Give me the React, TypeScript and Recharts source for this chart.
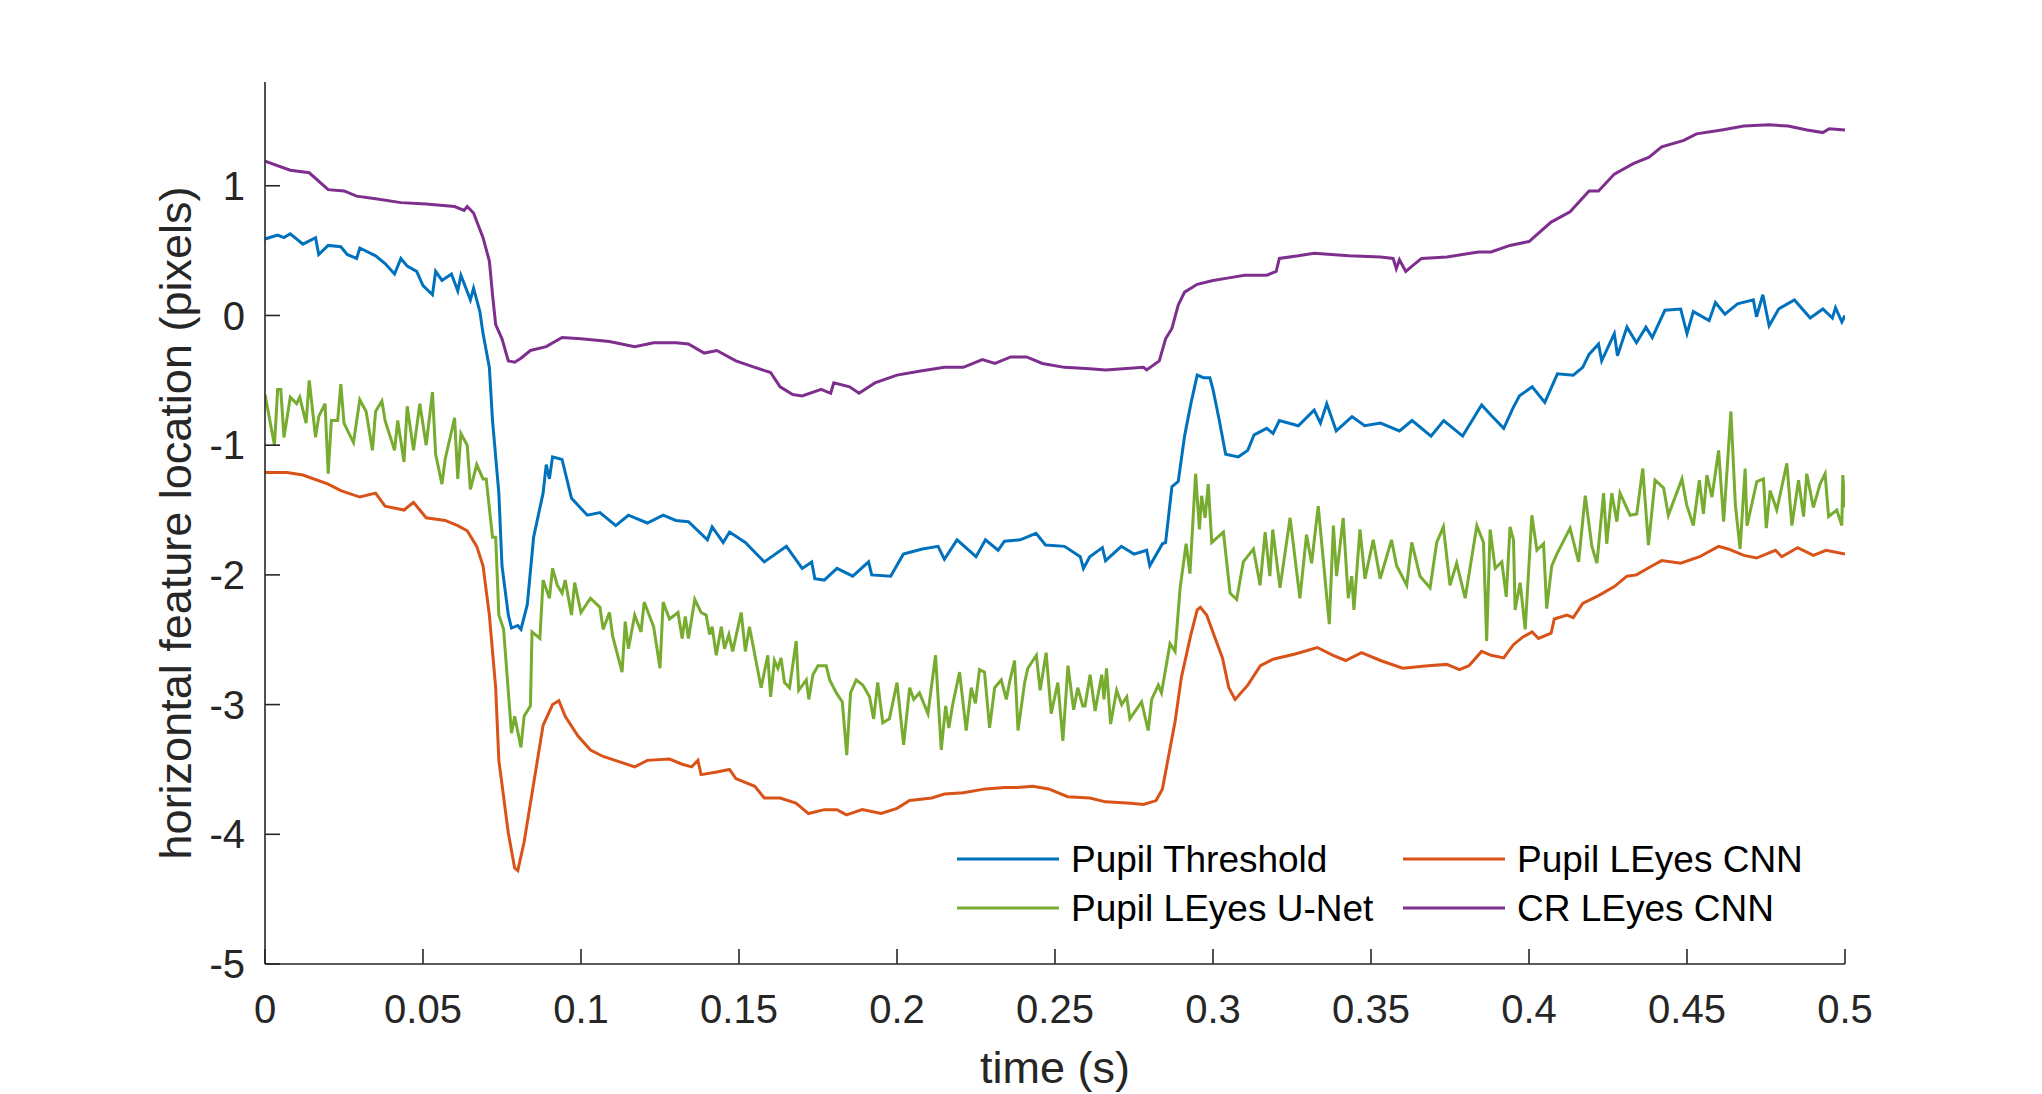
import { LineChart, Line, XAxis, YAxis, Legend, Label } from 'recharts'

// time (s) and horizontal position (pixels), per signal
const thresholdT = [
  0, 0.004, 0.006, 0.008, 0.012, 0.016, 0.017, 0.02, 0.024, 0.026, 0.029, 0.03, 0.035, 0.038, 0.041, 0.043,
  0.045, 0.048, 0.05, 0.053, 0.054, 0.056, 0.059, 0.061, 0.062, 0.065, 0.066, 0.068, 0.069, 0.071, 0.072,
  0.074, 0.075, 0.077, 0.078, 0.08, 0.081, 0.083, 0.085, 0.088, 0.089, 0.09, 0.091, 0.094, 0.097, 0.102,
  0.106, 0.111, 0.115, 0.121, 0.126, 0.13, 0.134, 0.14, 0.1415, 0.145, 0.147, 0.152, 0.158, 0.165, 0.17,
  0.173, 0.174, 0.177, 0.181, 0.186, 0.191, 0.192, 0.198, 0.202, 0.208, 0.213, 0.215, 0.219, 0.225, 0.228,
  0.232, 0.234, 0.239, 0.244, 0.247, 0.253, 0.258, 0.259, 0.261, 0.265, 0.266, 0.271, 0.275, 0.279, 0.28,
  0.284, 0.285, 0.287, 0.289, 0.291, 0.293, 0.295, 0.297, 0.299, 0.3, 0.302, 0.304, 0.308, 0.311, 0.313,
  0.317, 0.319, 0.321, 0.327, 0.332, 0.334, 0.336, 0.339, 0.344, 0.348, 0.353, 0.359, 0.363, 0.369, 0.373,
  0.379, 0.382, 0.385, 0.388, 0.392, 0.395, 0.397, 0.401, 0.405, 0.409, 0.414, 0.417, 0.419, 0.422, 0.423,
  0.427, 0.428, 0.431, 0.434, 0.437, 0.439, 0.443, 0.448, 0.45, 0.452, 0.457, 0.459, 0.462, 0.466, 0.471,
  0.472, 0.474, 0.476, 0.479, 0.484, 0.489, 0.493, 0.496, 0.497, 0.499, 0.5,
]
const thresholdV = [
  0.59, 0.62, 0.6, 0.63, 0.55, 0.6, 0.47, 0.54, 0.53, 0.47, 0.44, 0.52, 0.46, 0.4, 0.32, 0.44,
  0.38, 0.34, 0.23, 0.16, 0.34, 0.27, 0.32, 0.19, 0.31, 0.12, 0.21, 0.03, -0.14, -0.4, -0.81,
  -1.37, -1.93, -2.31, -2.41, -2.39, -2.42, -2.23, -1.71, -1.37, -1.15, -1.26, -1.09, -1.11, -1.41, -1.54,
  -1.52, -1.62, -1.54, -1.6, -1.54, -1.58, -1.59, -1.73, -1.63, -1.75, -1.67, -1.75, -1.9, -1.78, -1.95,
  -1.9, -2.03, -2.04, -1.95, -2.01, -1.9, -2.0, -2.01, -1.84, -1.8, -1.78, -1.88, -1.73, -1.86, -1.73,
  -1.81, -1.74, -1.73, -1.68, -1.77, -1.78, -1.86, -1.95, -1.86, -1.79, -1.89, -1.78, -1.84, -1.81, -1.93,
  -1.76, -1.75, -1.32, -1.28, -0.93, -0.68, -0.46, -0.48, -0.48, -0.57, -0.81, -1.07, -1.09, -1.04, -0.92,
  -0.87, -0.91, -0.81, -0.85, -0.73, -0.83, -0.68, -0.89, -0.78, -0.85, -0.83, -0.89, -0.81, -0.93, -0.81,
  -0.93, -0.81, -0.69, -0.77, -0.87, -0.71, -0.62, -0.55, -0.67, -0.45, -0.46, -0.4, -0.3, -0.22, -0.35,
  -0.14, -0.31, -0.09, -0.21, -0.09, -0.17, 0.04, 0.05, -0.14, 0.03, -0.04, 0.1, 0.01, 0.09, 0.12,
  -0.01, 0.16, -0.08, 0.05, 0.12, -0.02, 0.05, -0.02, 0.06, -0.05, 0.0,
]

const cnnT = [
  0, 0.007, 0.012, 0.02, 0.024, 0.03, 0.035, 0.038, 0.044, 0.047, 0.051, 0.057, 0.061, 0.064, 0.067, 0.069,
  0.071, 0.073, 0.074, 0.077, 0.079, 0.08, 0.082, 0.085, 0.088, 0.091, 0.093, 0.095, 0.099, 0.103, 0.107,
  0.112, 0.117, 0.121, 0.128, 0.132, 0.135, 0.137, 0.138, 0.143, 0.147, 0.149, 0.155, 0.158, 0.163, 0.168,
  0.172, 0.177, 0.181, 0.184, 0.189, 0.195, 0.2, 0.204, 0.211, 0.215, 0.221, 0.228, 0.234, 0.238, 0.243,
  0.248, 0.254, 0.261, 0.266, 0.274, 0.278, 0.282, 0.284, 0.286, 0.288, 0.29, 0.293, 0.295, 0.296, 0.298,
  0.301, 0.303, 0.305, 0.307, 0.311, 0.315, 0.319, 0.326, 0.333, 0.338, 0.342, 0.347, 0.353, 0.36, 0.368,
  0.374, 0.378, 0.381, 0.385, 0.388, 0.392, 0.395, 0.398, 0.401, 0.403, 0.407, 0.408, 0.412, 0.414, 0.417,
  0.422, 0.427, 0.431, 0.434, 0.439, 0.442, 0.448, 0.454, 0.46, 0.463, 0.468, 0.472, 0.478, 0.48, 0.485,
  0.49, 0.494, 0.5,
]
const cnnV = [
  -1.21, -1.21, -1.23, -1.3, -1.35, -1.4, -1.37, -1.47, -1.5, -1.44, -1.56, -1.58, -1.62, -1.66, -1.78, -1.93,
  -2.31, -2.87, -3.43, -3.99, -4.26, -4.28, -4.06, -3.61, -3.16, -3.0, -2.97, -3.09, -3.24, -3.35, -3.4,
  -3.44, -3.48, -3.43, -3.42, -3.46, -3.48, -3.43, -3.54, -3.52, -3.5, -3.57, -3.63, -3.72, -3.72, -3.76,
  -3.84, -3.81, -3.81, -3.85, -3.81, -3.84, -3.8, -3.74, -3.72, -3.69, -3.68, -3.65, -3.64, -3.64, -3.63,
  -3.65, -3.71, -3.72, -3.75, -3.76, -3.77, -3.74, -3.65, -3.39, -3.13, -2.79, -2.46, -2.27, -2.25, -2.31,
  -2.51, -2.64, -2.87, -2.96, -2.85, -2.7, -2.65, -2.61, -2.56, -2.62, -2.66, -2.6, -2.66, -2.72, -2.7,
  -2.69, -2.73, -2.7, -2.59, -2.62, -2.64, -2.54, -2.48, -2.44, -2.49, -2.45, -2.34, -2.31, -2.33, -2.22,
  -2.16, -2.09, -2.01, -2.0, -1.93, -1.89, -1.91, -1.86, -1.78, -1.8, -1.85, -1.87, -1.81, -1.86, -1.79,
  -1.85, -1.81, -1.84,
]

const unetT = [
  0, 0.003, 0.004, 0.005, 0.006, 0.008, 0.01, 0.011, 0.013, 0.014, 0.016, 0.017, 0.019, 0.02, 0.021, 0.023,
  0.024, 0.025, 0.028, 0.03, 0.032, 0.034, 0.035, 0.037, 0.038, 0.041, 0.042, 0.044, 0.045, 0.047, 0.049,
  0.051, 0.053, 0.054, 0.056, 0.057, 0.06, 0.061, 0.062, 0.064, 0.065, 0.067, 0.069, 0.07, 0.072, 0.073,
  0.074, 0.0755, 0.078, 0.079, 0.081, 0.082, 0.084, 0.0845, 0.087, 0.088, 0.09, 0.091, 0.0925, 0.094, 0.095,
  0.097, 0.098, 0.1, 0.103, 0.106, 0.107, 0.109, 0.11, 0.113, 0.114, 0.115, 0.117, 0.119, 0.12, 0.123,
  0.125, 0.126, 0.128, 0.1307, 0.132, 0.133, 0.134, 0.136, 0.138, 0.1396, 0.1407, 0.1415, 0.1428, 0.1444,
  0.1454, 0.1468, 0.148, 0.1507, 0.152, 0.1533, 0.157, 0.1591, 0.16, 0.1612, 0.1623, 0.1633, 0.1644, 0.166,
  0.1681, 0.1689, 0.1713, 0.1721, 0.1734, 0.175, 0.1776, 0.1787, 0.1808, 0.1827, 0.1841, 0.1853, 0.1871,
  0.1892, 0.1913, 0.1926, 0.1939, 0.1955, 0.1976, 0.2, 0.2021, 0.204, 0.2053, 0.2071, 0.2098, 0.2122, 0.214,
  0.2154, 0.2164, 0.2177, 0.2198, 0.2219, 0.2235, 0.2248, 0.2261, 0.2277, 0.2293, 0.2309, 0.233, 0.2346,
  0.2356, 0.2372, 0.2383, 0.2404, 0.2414, 0.2441, 0.2453, 0.2472, 0.2488, 0.2509, 0.2525, 0.2541, 0.2559,
  0.2572, 0.2588, 0.2595, 0.2611, 0.2627, 0.2648, 0.2655, 0.2663, 0.2676, 0.2695, 0.2711, 0.2727, 0.2737,
  0.2774, 0.2795, 0.2806, 0.2827, 0.2837, 0.2864, 0.288, 0.2896, 0.2915, 0.2927, 0.2945, 0.2957, 0.2964,
  0.2975, 0.2985, 0.2996, 0.3033, 0.3054, 0.3075, 0.3096, 0.3128, 0.3149, 0.3165, 0.318, 0.3189, 0.3212,
  0.3244, 0.3275, 0.3296, 0.3312, 0.3333, 0.3368, 0.3381, 0.3391, 0.3412, 0.3428, 0.3439, 0.3446, 0.3465,
  0.3481, 0.3507, 0.3529, 0.3565, 0.3581, 0.3613, 0.3629, 0.3655, 0.3687, 0.3708, 0.3729, 0.375, 0.3771,
  0.3798, 0.3835, 0.3856, 0.3866, 0.3877, 0.3893, 0.3914, 0.3928, 0.394, 0.3951, 0.3956, 0.3972, 0.3988,
  0.4009, 0.4025, 0.4046, 0.4056, 0.4072, 0.4088, 0.413, 0.4157, 0.4178, 0.4199, 0.4215, 0.4236, 0.4246,
  0.4262, 0.4278, 0.4288, 0.432, 0.4341, 0.436, 0.4378, 0.4399, 0.4426, 0.4441, 0.4484, 0.4499, 0.452,
  0.4539, 0.4552, 0.4563, 0.4579, 0.46, 0.4616, 0.4639, 0.4653, 0.4668, 0.4684, 0.469, 0.4721, 0.4742,
  0.4751, 0.4763, 0.4784, 0.4816, 0.4832, 0.4853, 0.4869, 0.4879, 0.49, 0.4921, 0.4937, 0.4948, 0.4974,
  0.499, 0.4993, 0.5,
]
const unetV = [
  -0.61, -1.0, -0.57, -0.57, -0.94, -0.63, -0.68, -0.63, -0.83, -0.5, -0.94, -0.78, -0.68, -1.22, -0.81, -0.81,
  -0.53, -0.83, -0.98, -0.65, -0.74, -1.04, -0.74, -0.66, -0.81, -1.04, -0.81, -1.13, -0.7, -1.04, -0.68,
  -1.0, -0.59, -1.07, -1.3, -1.11, -0.79, -1.26, -0.91, -1.0, -1.34, -1.15, -1.26, -1.26, -1.71, -1.71,
  -2.31, -2.42, -3.22, -3.09, -3.33, -3.09, -3.01, -2.44, -2.49, -2.04, -2.18, -1.95, -2.08, -2.14, -2.04,
  -2.31, -2.06, -2.29, -2.18, -2.25, -2.42, -2.29, -2.47, -2.75, -2.36, -2.57, -2.31, -2.44, -2.21, -2.4,
  -2.72, -2.21, -2.34, -2.29, -2.49, -2.32, -2.49, -2.19, -2.29, -2.31, -2.46, -2.4, -2.62, -2.4,
  -2.57, -2.46, -2.59, -2.29, -2.59, -2.4, -2.87, -2.62, -2.94, -2.66, -2.72, -2.64, -2.83, -2.87,
  -2.51, -2.89, -2.81, -2.96, -2.77, -2.7, -2.7, -2.81, -2.91, -2.98, -3.39, -2.91, -2.81,
  -2.85, -2.94, -3.11, -2.83, -3.14, -3.11, -2.83, -3.31, -2.87, -2.96, -2.91, -3.07, -2.62, -3.35,
  -3.01, -3.18, -2.99, -2.75, -3.2, -2.87, -2.99, -2.73, -2.75, -3.18, -2.87, -2.81, -2.96,
  -2.83, -2.66, -3.2, -2.83, -2.72, -2.62, -2.89, -2.6, -3.07, -2.83, -3.28, -2.7, -3.04,
  -2.87, -3.01, -3.01, -2.77, -3.05, -2.77, -2.96, -2.72, -3.15, -2.89, -3.0, -2.94, -3.11,
  -2.98, -3.2, -2.96, -2.85, -2.91, -2.53, -2.59, -2.1, -1.76, -1.99, -1.22, -1.65, -1.39,
  -1.56, -1.3, -1.75, -1.67, -2.14, -2.19, -1.9, -1.8, -2.08, -1.67, -2.01, -1.65, -2.1,
  -1.56, -2.18, -1.69, -1.91, -1.47, -2.38, -1.62, -2.01, -1.56, -2.18, -2.01, -2.27, -1.65,
  -2.03, -1.73, -2.03, -1.73, -1.93, -2.08, -1.75, -2.01, -2.1, -1.75, -1.63, -2.08, -1.91,
  -2.18, -1.62, -1.75, -2.51, -1.65, -1.95, -1.9, -2.17, -1.63, -1.73, -2.27, -2.06, -2.42,
  -1.54, -1.81, -1.76, -2.26, -1.93, -1.84, -1.64, -1.9, -1.39, -1.78, -1.91, -1.37, -1.76,
  -1.37, -1.59, -1.37, -1.54, -1.53, -1.18, -1.77, -1.27, -1.33, -1.54, -1.26, -1.46, -1.62,
  -1.27, -1.53, -1.23, -1.4, -1.04, -1.59, -0.74, -1.46, -1.8, -1.18, -1.62, -1.28, -1.26,
  -1.64, -1.35, -1.5, -1.14, -1.62, -1.27, -1.55, -1.22, -1.48, -1.3, -1.22, -1.55, -1.5,
  -1.62, -1.23, -1.48,
]

const crT = [
  0, 0.008, 0.014, 0.02, 0.025, 0.029, 0.035, 0.043, 0.051, 0.06, 0.063, 0.064, 0.066, 0.069, 0.071, 0.072,
  0.073, 0.075, 0.077, 0.079, 0.081, 0.084, 0.089, 0.094, 0.1, 0.109, 0.117, 0.123, 0.13, 0.134, 0.139,
  0.143, 0.149, 0.155, 0.16, 0.163, 0.167, 0.17, 0.176, 0.179, 0.18, 0.185, 0.188, 0.193, 0.2, 0.207,
  0.215, 0.221, 0.227, 0.231, 0.236, 0.241, 0.246, 0.253, 0.261, 0.266, 0.278, 0.279, 0.283, 0.285, 0.287,
  0.289, 0.291, 0.295, 0.3, 0.305, 0.31, 0.317, 0.32, 0.321, 0.327, 0.332, 0.343, 0.353, 0.357, 0.358,
  0.359, 0.361, 0.363, 0.366, 0.374, 0.384, 0.388, 0.394, 0.4, 0.407, 0.413, 0.419, 0.422, 0.427, 0.433,
  0.438, 0.442, 0.449, 0.453, 0.461, 0.468, 0.476, 0.482, 0.488, 0.493, 0.495, 0.5,
]
const crV = [
  1.19, 1.12, 1.1, 0.97, 0.96, 0.92, 0.9, 0.87, 0.86, 0.84, 0.81, 0.84, 0.79, 0.6, 0.42, 0.16,
  -0.07, -0.18, -0.35, -0.36, -0.33, -0.27, -0.24, -0.17, -0.18, -0.2, -0.24, -0.21, -0.21, -0.22, -0.29,
  -0.27, -0.35, -0.4, -0.44, -0.55, -0.61, -0.62, -0.57, -0.6, -0.52, -0.55, -0.6, -0.52, -0.46, -0.43,
  -0.4, -0.4, -0.34, -0.37, -0.32, -0.32, -0.37, -0.4, -0.41, -0.42, -0.4, -0.42, -0.35, -0.18, -0.1,
  0.08, 0.18, 0.24, 0.27, 0.29, 0.31, 0.31, 0.34, 0.44, 0.46, 0.48, 0.46, 0.45, 0.44, 0.36,
  0.43, 0.34, 0.38, 0.44, 0.45, 0.49, 0.49, 0.54, 0.57, 0.72, 0.8, 0.96, 0.96, 1.09, 1.17,
  1.22, 1.3, 1.35, 1.4, 1.43, 1.46, 1.47, 1.46, 1.43, 1.41, 1.44, 1.43,
]

const xTicks = [0, 0.05, 0.1, 0.15, 0.2, 0.25, 0.3, 0.35, 0.4, 0.45, 0.5]
const xTickLabels = ['0', '0.05', '0.1', '0.15', '0.2', '0.25', '0.3', '0.35', '0.4', '0.45', '0.5']
const yTicks = [-5, -4, -3, -2, -1, 0, 1]

const series = [
  { name: 'Pupil Threshold', color: '#0072BD', t: thresholdT, v: thresholdV },
  { name: 'Pupil LEyes CNN', color: '#D95319', t: cnnT, v: cnnV },
  { name: 'Pupil LEyes U-Net', color: '#77AC30', t: unetT, v: unetV },
  { name: 'CR LEyes CNN', color: '#7E2F8E', t: crT, v: crV },
]

const FONT = '"Liberation Sans", Arial, Helvetica, sans-serif'
const AXIS = '#262626'

function XLabel({ viewBox }: any) {
  const x = viewBox.x + viewBox.width / 2
  return (
    <text x={x} y={viewBox.y + 119} textAnchor="middle" fontSize={45} fontFamily={FONT} fill={AXIS}>
      time (s)
    </text>
  )
}

function YLabel({ viewBox }: any) {
  const cx = viewBox.x + 191
  const cy = viewBox.y + viewBox.height / 2
  return (
    <text transform={`translate(${cx},${cy}) rotate(-90)`} textAnchor="middle" fontSize={45} fontFamily={FONT} fill={AXIS}>
      horizontal feature location (pixels)
    </text>
  )
}

function LegendBox() {
  return (
    <svg width={900} height={120} style={{ display: 'block' }}>
      {series.map((s, i) => {
        const col = i % 2
        const row = Math.floor(i / 2)
        const lx = col === 0 ? 17 : 463
        const ly = row === 0 ? 39 : 88
        return (
          <g key={s.name}>
            <line x1={lx} x2={lx + 102} y1={ly} y2={ly} stroke={s.color} strokeWidth={3} />
            <text x={lx + 114} y={ly + 13} fontSize={37} fontFamily={FONT} fill="#000">
              {s.name}
            </text>
          </g>
        )
      })}
    </svg>
  )
}

export default function App() {
  return (
    <div style={{ position: 'absolute', left: 0, top: 0, background: '#fff' }}>
      <LineChart width={2042} height={1094} margin={{ top: 82, right: 197, bottom: 0, left: 0 }}>
        <XAxis
          type="number"
          dataKey="t"
          domain={[0, 0.5]}
          ticks={xTicks}
          interval={0}
          allowDataOverflow
          tickFormatter={(v: number) => xTickLabels[xTicks.indexOf(v)] ?? String(v)}
          height={130}
          tickSize={-15}
          tickMargin={46}
          axisLine={{ stroke: AXIS, strokeWidth: 1.6 }}
          tickLine={{ stroke: AXIS, strokeWidth: 1.6 }}
          tick={{ fontSize: 40, fill: AXIS, fontFamily: FONT }}
        >
          <Label content={XLabel} />
        </XAxis>
        <YAxis
          type="number"
          domain={[-5, 1.8]}
          ticks={yTicks}
          interval={0}
          allowDataOverflow
          width={265}
          tickSize={-15}
          tickMargin={35}
          axisLine={{ stroke: AXIS, strokeWidth: 1.6 }}
          tickLine={{ stroke: AXIS, strokeWidth: 1.6 }}
          tick={{ fontSize: 40, fill: AXIS, fontFamily: FONT }}
        >
          <Label content={YLabel} />
        </YAxis>
        <Legend
          layout="vertical"
          align="center"
          verticalAlign="middle"
          content={() => <LegendBox />}
          wrapperStyle={{ position: 'absolute', left: 940, top: 820, width: 900, height: 120 }}
        />
        {series.map(s => (
          <Line
            key={s.name}
            name={s.name}
            data={s.t.map((t, i) => ({ t, v: s.v[i] }))}
            dataKey="v"
            type="linear"
            stroke={s.color}
            strokeWidth={3}
            dot={false}
            activeDot={false}
            isAnimationActive={false}
          />
        ))}
      </LineChart>
    </div>
  )
}
